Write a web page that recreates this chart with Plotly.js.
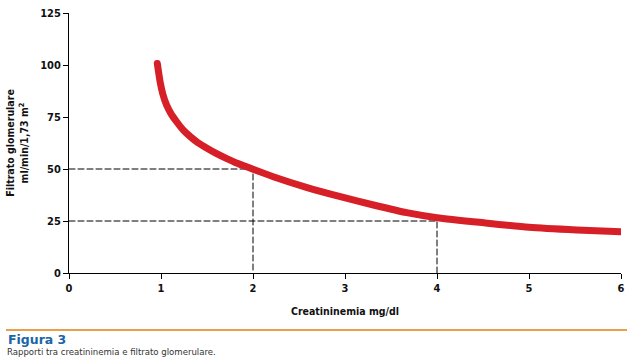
<!DOCTYPE html>
<html>
<head>
<meta charset="utf-8">
<script src="https://cdn.plot.ly/plotly-3.0.1.min.js"></script>
<style>
html,body{margin:0;padding:0;background:#fff;}
#chart{width:633px;height:362px;}
#chart path.js-line{stroke-linecap:round;stroke-linejoin:round;}
</style>
</head>
<body>
<div id="chart"></div>
<script>
// Curve: creatininemia (mg/dl) vs filtrato glomerulare (ml/min/1,73 m²)
const creatinine = [0.96, 0.99, 1.02, 1.06, 1.11, 1.17, 1.24, 1.32, 1.4, 1.5, 1.6, 1.71, 1.82, 1.93, 2.0, 2.22, 2.58, 2.95, 3.31, 3.67, 4.0, 4.52, 5.0, 5.52, 6.0];
const gfr        = [100.7, 92, 86, 80.8, 76.5, 72.7, 68.8, 65.5, 62.7, 60, 57.5, 55.1, 52.9, 51.1, 49.9, 46.3, 41.2, 36.7, 32.7, 29, 26.6, 24.1, 22, 20.7, 19.8];

// Reference (dashed) points
const refCreat = [2, 4];
const refGfr   = [50, 25];

const xTicks = [0, 1, 2, 3, 4, 5, 6];
const yTicks = [0, 25, 50, 75, 100, 125];

const narrow = "'DejaVu Sans Condensed', 'Liberation Sans Narrow', Roboto, sans-serif";

const traces = [];
refCreat.forEach((c, i) => {
  traces.push({
    x: [0, c, c], y: [refGfr[i], refGfr[i], 0],
    mode: 'lines', line: {color: '#000', width: 1, dash: '6px,3px'},
    hoverinfo: 'skip', showlegend: false
  });
});
traces.push({
  x: creatinine, y: gfr, mode: 'lines',
  line: {color: '#d71f27', width: 7, shape: 'spline', smoothing: 0.6},
  showlegend: false
});

const W = 633, H = 362, L = 69, R = 12, T = 13, B = 89;
const pw = W - L - R, ph = H - T - B;
const px = x => (x - L) / pw;
const py = y => (H - B - y) / ph;

const layout = {
  width: W, height: H,
  margin: {l: L, r: R, t: T, b: B, pad: 0},
  paper_bgcolor: '#fff', plot_bgcolor: '#fff',
  font: {family: narrow, color: '#111', size: 11},
  xaxis: {
    range: [0, 6], tickvals: xTicks, ticktext: xTicks.map(String),
    showgrid: false, zeroline: false, showline: true, linecolor: '#000', linewidth: 1,
    ticks: 'outside', ticklen: 5, tickcolor: '#000', tickwidth: 1,
    tickfont: {family: narrow, size: 11, color: '#111', weight: 'bold'},
    title: {text: '<b>Creatininemia mg/dl</b>', font: {family: narrow, size: 10.5, color: '#111'}, standoff: 13}
  },
  yaxis: {
    range: [0, 125], tickvals: yTicks, ticktext: yTicks.map(String),
    showgrid: false, zeroline: false, showline: true, linecolor: '#000', linewidth: 1,
    ticks: 'outside', ticklen: 5, tickcolor: '#000', tickwidth: 1,
    tickfont: {family: narrow, size: 11, color: '#111', weight: 'bold'},
    title: {text: '<b>Filtrato glomerulare<br>ml/min/1,73 m<sup>2</sup></b>', font: {family: narrow, size: 10.5, color: '#111'}, standoff: 9}
  },
  shapes: [{
    type: 'line', xref: 'paper', yref: 'paper',
    x0: px(6), x1: px(627), y0: py(330), y1: py(330),
    line: {color: '#e8a04c', width: 2}
  }],
  annotations: [
    {xref: 'paper', yref: 'paper', x: px(6), y: py(339.5), xanchor: 'left', yanchor: 'middle',
     text: '<b>Figura 3</b>', showarrow: false,
     font: {family: "'DejaVu Sans', sans-serif", size: 12.5, color: '#1b65a6'}},
    {xref: 'paper', yref: 'paper', x: px(5), y: py(351.5), xanchor: 'left', yanchor: 'middle',
     text: 'Rapporti tra creatininemia e filtrato glomerulare.', showarrow: false,
     font: {family: narrow, size: 9.5, color: '#333'}}
  ]
};

Plotly.newPlot('chart', traces, layout, {displayModeBar: false, staticPlot: true});
</script>
</body>
</html>
